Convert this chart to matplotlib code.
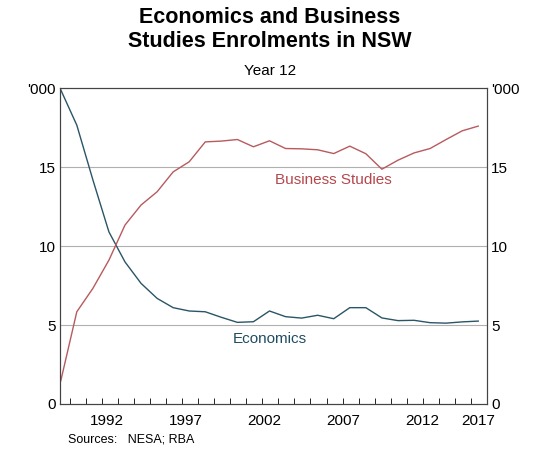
import matplotlib.pyplot as plt
import numpy as np

plt.rcParams['font.family'] = ['Liberation Sans', 'DejaVu Sans']

# annual points, index 0..26
economics = [19.9, 17.66, 14.2, 10.9, 9.0, 7.64, 6.69, 6.1, 5.89, 5.84, 5.49, 5.17,
             5.21, 5.89, 5.53, 5.44, 5.62, 5.4, 6.1, 6.1, 5.45, 5.28, 5.3, 5.15,
             5.12, 5.2, 5.25]
business = [1.46, 5.84, 7.32, 9.11, 11.33, 12.6, 13.44, 14.7, 15.34, 16.6, 16.65, 16.75,
            16.29, 16.67, 16.18, 16.16, 16.1, 15.86, 16.33, 15.85, 14.87, 15.44, 15.9,
            16.18, 16.75, 17.3, 17.6]
year_labels = ['1992', '1997', '2002', '2007', '2012', '2017']
label_pos = [2.9, 7.8, 12.7, 17.6, 22.5, 26.0]

fig = plt.figure(figsize=(5.4, 4.57), dpi=100)
ax = fig.add_axes([0.111, 0.116, 0.791, 0.691])
x = np.arange(len(economics))
ax.plot(x, economics, color='#2a5566', lw=1.0)
ax.plot(x, business, color='#b85a5e', lw=1.0)

ax.set_xlim(-0.05, 26.55)
ax.set_ylim(0, 20)
for v in [5, 10, 15]:
    ax.axhline(v, color='#b0b0b0', lw=0.8, zorder=0)

ax.set_xticks(label_pos)
ax.set_xticklabels(year_labels, fontsize=11)
ax.set_xticks(np.arange(0.55, 26, 1.0), minor=True)
ax.tick_params(axis='x', which='major', length=0, pad=7)
ax.tick_params(axis='x', which='minor', direction='in', length=4)

yt = [0, 5, 10, 15, 20]
ylab = ['0', '5', '10', '15', "'000"]
ax.set_yticks(yt)
ax.set_yticklabels(ylab, fontsize=11)
ax.tick_params(axis='y', length=0, pad=3)
ax2 = ax.twinx()
ax2.set_ylim(0, 20)
ax2.set_yticks(yt)
ax2.set_yticklabels(ylab, fontsize=11)
ax2.tick_params(axis='y', length=0, pad=3)

for a in (ax, ax2):
    for s in a.spines.values():
        s.set_color('#444444')

ax.text(17.0, 14.2, 'Business Studies', color='#b5474d', fontsize=11, ha='center', va='center')
ax.text(13.0, 4.1, 'Economics', color='#1f4d60', fontsize=11, ha='center', va='center')

fig.text(0.5, 0.985, 'Economics and Business\nStudies Enrolments in NSW', ha='center', va='top',
         fontsize=15.5, fontweight='bold', linespacing=1.2)
fig.text(0.5, 0.845, 'Year 12', ha='center', va='center', fontsize=11)
fig.text(0.125, 0.025, 'Sources:   NESA; RBA', fontsize=9, ha='left', va='bottom')

fig.savefig('out.png', dpi=100)
